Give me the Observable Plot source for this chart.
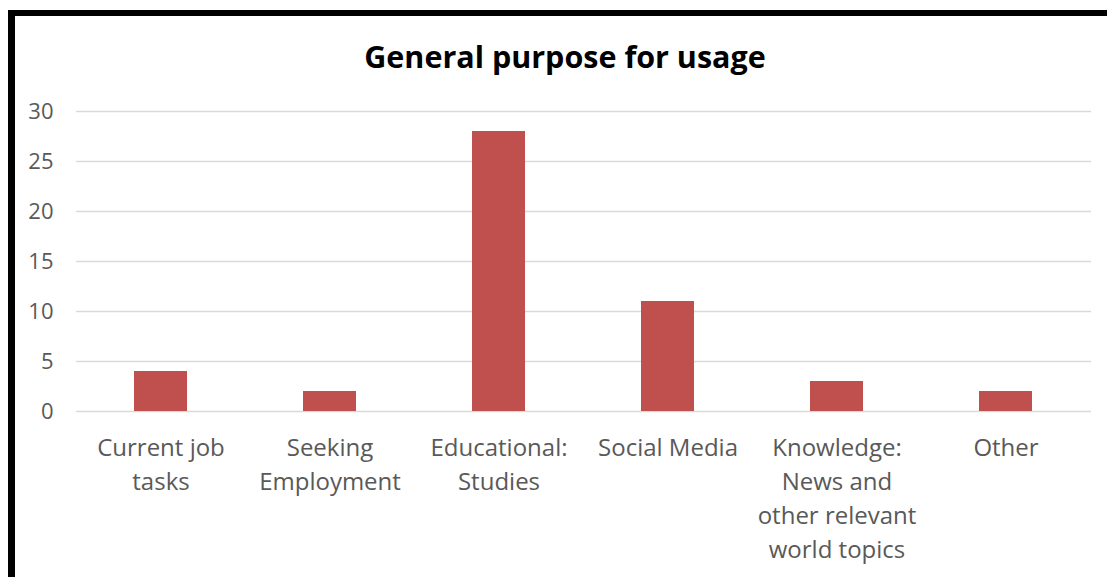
<!DOCTYPE html>
<html>
<head>
<meta charset="utf-8">
<script src="https://cdn.jsdelivr.net/npm/d3@7"></script>
<script src="https://cdn.jsdelivr.net/npm/@observablehq/plot@0.6"></script>
<style>
  html, body { margin: 0; padding: 0; background: #fff; overflow: hidden; }
  #wrap { position: relative; width: 1107px; height: 577px; overflow: hidden; background: #fff; }
  #frame { position: absolute; left: 8px; top: 10px; width: 1200px; height: 700px;
           border-left: 7px solid #000; border-top: 6px solid #000; box-sizing: border-box; }
  #title { position: absolute; left: 0; width: 1130px; top: 35px; text-align: center;
           font-family: "Open Sans", sans-serif; font-weight: bold; font-size: 30.5px; color: #000; }
  #chart { position: absolute; left: 0; top: 0; }
</style>
</head>
<body>
<div id="wrap">
  <div id="frame"></div>
  <div id="title">General purpose for usage</div>
  <div id="chart"></div>
</div>
<script>
const categories = [
  "Current job\ntasks",
  "Seeking\nEmployment",
  "Educational:\nStudies",
  "Social Media",
  "Knowledge:\nNews and\nother relevant\nworld topics",
  "Other"
];
const counts = [4, 2, 28, 11, 3, 2];
const yTicks = [0, 5, 10, 15, 20, 25, 30];

const data = categories.map((c, i) => ({category: c, value: counts[i]}));

const chart = Plot.plot({
  width: 1107,
  height: 577,
  marginLeft: 76,
  marginRight: 16,
  marginTop: 111,
  marginBottom: 166,
  style: {fontFamily: "Open Sans, sans-serif", background: "transparent", overflow: "visible"},
  x: {domain: categories, paddingInner: 0.686, paddingOuter: 0.343, label: null},
  y: {domain: [0, 30], label: null},
  marks: [
    Plot.gridY(yTicks, {stroke: "#d9d9d9", strokeOpacity: 1, strokeWidth: 1.5}),
    Plot.barY(data, {x: "category", y: "value", fill: "#C0504D"}),
    Plot.axisY(yTicks, {tickSize: 0, tickPadding: 23, fontSize: 22, fill: "#595959", label: null}),
    Plot.axisX({tickSize: 0, tickPadding: 20, fontSize: 24, fill: "#595959", lineHeight: 1.42, label: null})
  ]
});
document.getElementById("chart").appendChild(chart);
</script>
</body>
</html>
